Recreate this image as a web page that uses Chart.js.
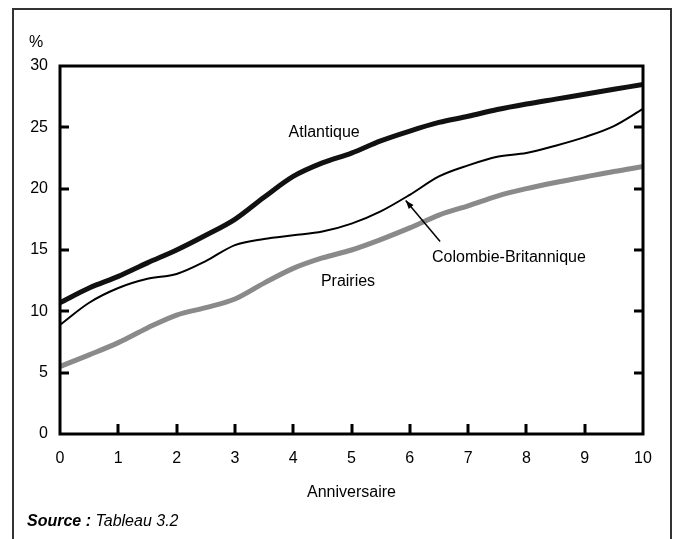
<!DOCTYPE html>
<html>
<head>
<meta charset="utf-8">
<script src="https://cdn.jsdelivr.net/npm/chart.js@4/dist/chart.umd.min.js"></script>
<style>
  html, body { margin: 0; padding: 0; background: #fff; }
  canvas { display: block; }
</style>
</head>
<body>
<canvas id="chart" width="673" height="539"></canvas>
<script>
// --- data (anniversary in years, % of cohort) ---
const anniversaries = [0, 0.5, 1, 1.5, 2, 2.5, 3, 3.5, 4, 4.5, 5, 5.5, 6, 6.5, 7, 7.5, 8, 8.5, 9, 9.5, 10];
const atlantique = [10.7, 11.9, 12.85, 13.95, 15.0, 16.2, 17.5, 19.3, 21.0, 22.1, 22.9, 23.9, 24.7, 25.4, 25.9, 26.45, 26.9, 27.3, 27.7, 28.1, 28.5];
const colombieBritannique = [8.9, 10.7, 11.9, 12.65, 13.05, 14.1, 15.4, 15.9, 16.2, 16.5, 17.15, 18.15, 19.5, 21.0, 21.9, 22.6, 22.9, 23.5, 24.2, 25.1, 26.5];
const prairies = [5.5, 6.45, 7.45, 8.65, 9.7, 10.3, 11.0, 12.3, 13.5, 14.35, 15.0, 15.85, 16.8, 17.85, 18.6, 19.4, 20.0, 20.5, 20.95, 21.4, 21.8];
const xTicks = [0, 1, 2, 3, 4, 5, 6, 7, 8, 9, 10];
const yTicks = [0, 5, 10, 15, 20, 25, 30];

const FONT = '"Liberation Sans", Arial, sans-serif';

const toPoints = vals => vals.map((v, i) => ({ x: anniversaries[i], y: v }));

// frame, inward ticks, labels and arrow
const decor = {
  id: 'decor',
  beforeDraw(chart) {
    const { ctx, width, height } = chart;
    ctx.save();
    ctx.fillStyle = '#fff';
    ctx.fillRect(0, 0, width, height);
    // outer figure box (runs off the bottom)
    ctx.strokeStyle = '#333';
    ctx.lineWidth = 2;
    ctx.beginPath();
    ctx.moveTo(13, height + 5);
    ctx.lineTo(13, 9);
    ctx.lineTo(671, 9);
    ctx.lineTo(671, height + 5);
    ctx.stroke();
    ctx.restore();
  },
  afterDatasetsDraw(chart) {
    const { ctx, chartArea: a, scales: { x, y } } = chart;
    ctx.save();
    ctx.strokeStyle = '#000';
    ctx.lineWidth = 3;
    ctx.strokeRect(a.left, a.top, a.right - a.left, a.bottom - a.top);

    ctx.beginPath();
    yTicks.forEach(v => {
      if (v <= 0 || v >= 30) return;
      const py = Math.round(y.getPixelForValue(v));
      ctx.moveTo(a.left, py); ctx.lineTo(a.left + 9, py);
      ctx.moveTo(a.right, py); ctx.lineTo(a.right - 9, py);
    });
    xTicks.forEach(v => {
      if (v <= 0 || v >= 10) return;
      const px = Math.round(x.getPixelForValue(v));
      ctx.moveTo(px, a.bottom); ctx.lineTo(px, a.bottom - 10);
    });
    ctx.stroke();

    // series labels
    ctx.fillStyle = '#000';
    ctx.font = '16px ' + FONT;
    ctx.textAlign = 'center';
    ctx.textBaseline = 'middle';
    ctx.fillText('Atlantique', x.getPixelForValue(4.53), y.getPixelForValue(24.57));
    ctx.fillText('Prairies', x.getPixelForValue(4.94), y.getPixelForValue(12.43));
    ctx.fillText('Colombie-Britannique', x.getPixelForValue(7.7), y.getPixelForValue(14.38));

    // arrow to the B.C. line
    const x0 = x.getPixelForValue(6.52), y0 = y.getPixelForValue(15.69);
    const x1 = x.getPixelForValue(5.93), y1 = y.getPixelForValue(19.03);
    ctx.lineWidth = 1.5;
    ctx.beginPath();
    ctx.moveTo(x0, y0); ctx.lineTo(x1, y1);
    ctx.stroke();
    const ang = Math.atan2(y1 - y0, x1 - x0);
    ctx.beginPath();
    ctx.moveTo(x1, y1);
    ctx.lineTo(x1 - 9 * Math.cos(ang - 0.35), y1 - 9 * Math.sin(ang - 0.35));
    ctx.lineTo(x1 - 9 * Math.cos(ang + 0.35), y1 - 9 * Math.sin(ang + 0.35));
    ctx.closePath();
    ctx.fill();

    // unit and source
    ctx.textAlign = 'left';
    ctx.font = '16px ' + FONT;
    ctx.fillText('%', 29, 43);
    ctx.font = 'italic bold 16px ' + FONT;
    ctx.fillText('Source :', 27, 522);
    const w = ctx.measureText('Source : ').width;
    ctx.font = 'italic 16px ' + FONT;
    ctx.fillText('Tableau 3.2', 27 + w, 522);
    ctx.restore();
  }
};

new Chart(document.getElementById('chart'), {
  type: 'line',
  data: {
    datasets: [
      {
        label: 'Atlantique',
        data: toPoints(atlantique),
        borderColor: '#111',
        borderWidth: 5,
        pointRadius: 0,
        cubicInterpolationMode: 'monotone'
      },
      {
        label: 'Colombie-Britannique',
        data: toPoints(colombieBritannique),
        borderColor: '#000',
        borderWidth: 2,
        pointRadius: 0,
        cubicInterpolationMode: 'monotone'
      },
      {
        label: 'Prairies',
        data: toPoints(prairies),
        borderColor: '#8a8a8a',
        borderWidth: 5,
        pointRadius: 0,
        cubicInterpolationMode: 'monotone'
      }
    ]
  },
  options: {
    responsive: false,
    animation: false,
    events: [],
    layout: { padding: { top: 66, right: 30, left: 0, bottom: 0 } },
    plugins: { legend: { display: false }, tooltip: { enabled: false } },
    scales: {
      x: {
        type: 'linear',
        min: 0,
        max: 10,
        afterBuildTicks: s => { s.ticks = xTicks.map(v => ({ value: v })); },
        afterFit: s => { s.height = 105; },
        grid: { display: false, drawTicks: false },
        border: { display: false },
        ticks: { color: '#000', padding: 15, maxRotation: 0, font: { family: FONT, size: 16 } },
        title: {
          display: true,
          text: 'Anniversaire',
          color: '#000',
          font: { family: FONT, size: 16 },
          padding: { bottom: 37 }
        }
      },
      y: {
        min: 0,
        max: 30,
        afterBuildTicks: s => { s.ticks = yTicks.map(v => ({ value: v })); },
        afterFit: s => { s.width = 60; },
        grid: { display: false, drawTicks: false },
        border: { display: false },
        ticks: { color: '#000', padding: 12, font: { family: FONT, size: 16 } }
      }
    }
  },
  plugins: [decor]
});
</script>
</body>
</html>
